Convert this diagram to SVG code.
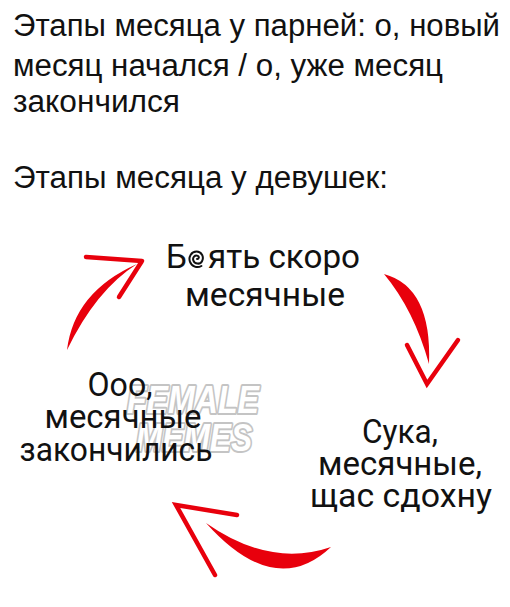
<svg xmlns="http://www.w3.org/2000/svg" width="510" height="607" viewBox="0 0 510 607">
<style>
.h{font-family:"Liberation Sans",Arial,sans-serif;font-size:31px;fill:#111}
.n{font-family:Roboto,"Liberation Sans",sans-serif;font-size:33px;fill:#111;text-anchor:middle}
.wm{font-family:"Liberation Sans",Arial,sans-serif;font-weight:bold;font-style:italic;font-size:39px;fill:#fff;stroke:#c4c4c4;stroke-width:4;paint-order:stroke;stroke-linejoin:round}
.arm{fill:none;stroke:#e8000c;stroke-width:4.5;stroke-linecap:round}
.body{fill:#e8000c}
</style>
<rect width="510" height="607" fill="#fff"/>
<g id="header">
<text class="h" x="13" y="36" textLength="487" lengthAdjust="spacingAndGlyphs">Этапы месяца у парней: о, новый</text>
<text class="h" x="13" y="76" textLength="430" lengthAdjust="spacingAndGlyphs">месяц начался / о, уже месяц</text>
<text class="h" x="13" y="112" textLength="167" lengthAdjust="spacingAndGlyphs">закончился</text>
<text class="h" x="13" y="188" textLength="375" lengthAdjust="spacingAndGlyphs">Этапы месяца у девушек:</text>
</g>
<g id="watermark">
<text class="wm" x="127" y="413" textLength="132" lengthAdjust="spacingAndGlyphs">FEMALE</text>
<text class="wm" x="136" y="451" textLength="116" lengthAdjust="spacingAndGlyphs">MEMES</text>
</g>
<g id="node-top">
<text class="n" style="text-anchor:start" x="166" y="268">Б</text>
<path d="M197,259 c1.8,0.3 2.6,-2.3 0.8,-3.2 c-3,-1.3 -5.6,1.8 -4.4,4.8 c1.3,3.6 6.8,4.2 8.6,0.6 c2.4,-4.3 -0.6,-9.6 -5.4,-9.6 c-5.4,0 -8.4,5.4 -6.6,10.2 c1.8,4.8 7.2,6.6 11.4,4.2" fill="none" stroke="#111" stroke-width="2" stroke-linecap="round"/>
<text class="n" style="text-anchor:start" x="208" y="268" textLength="152" lengthAdjust="spacingAndGlyphs">ять скоро</text>
<text class="n" x="265" y="306" textLength="160" lengthAdjust="spacingAndGlyphs">месячные</text>
</g>
<g id="node-right">
<text class="n" x="400" y="443" textLength="76" lengthAdjust="spacingAndGlyphs">Сука,</text>
<text class="n" x="400" y="475" textLength="164" lengthAdjust="spacingAndGlyphs">месячные,</text>
<text class="n" x="401" y="507" textLength="182" lengthAdjust="spacingAndGlyphs">щас сдохну</text>
</g>
<g id="node-left">
<text class="n" x="120" y="396" textLength="65" lengthAdjust="spacingAndGlyphs">Ооо,</text>
<text class="n" x="123" y="428" textLength="157" lengthAdjust="spacingAndGlyphs">месячные</text>
<text class="n" x="116" y="461" textLength="193" lengthAdjust="spacingAndGlyphs">закончились</text>
</g>
<g id="connectors">
<path class="body" d="M67,350 Q74,292 137,264 Q96,290 67,350 Z"/>
<path class="arm" d="M86,257 L142,261 M119,297 L142,261"/>
<path class="body" d="M384,274 Q432,287 429,364 Q414,310 384,274 Z"/>
<path class="arm" d="M407,345 L427,384 L458,340"/>
<path class="body" d="M331,547 Q275,600 206,523 Q270,568 331,547 Z"/>
<path class="arm" d="M237,515 L176,505 L215,575"/>
</g>
</svg>
